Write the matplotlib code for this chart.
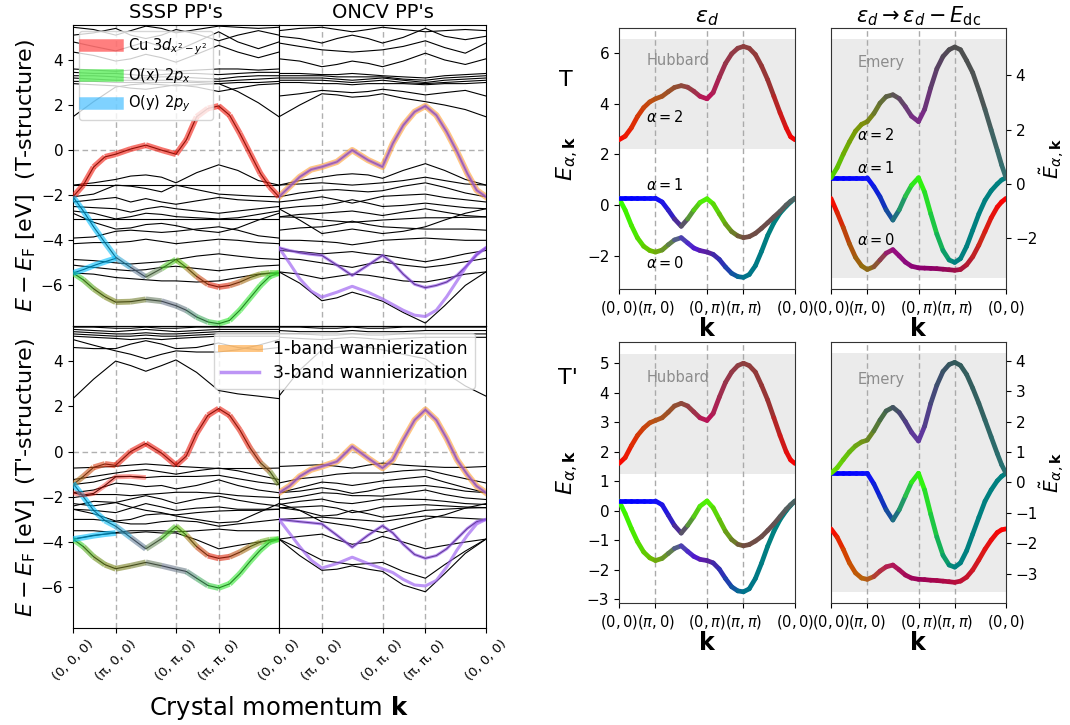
import numpy as np
import matplotlib
matplotlib.use("Agg")
import matplotlib.pyplot as plt
from matplotlib.collections import LineCollection
from matplotlib.lines import Line2D

# ---------------------------------------------------------------- k paths
# normalised path length along (0,0,0)-(pi,0,0)-(0,pi,0)-(pi,pi,0)-(0,0,0)
K_NODES = [0.0, 0.2071, 0.5, 0.7071, 1.0]
K_LABELS_3D = ["(0, 0, 0)", "(π, 0, 0)", "(0, π, 0)", "(π, π, 0)", "(0, 0, 0)"]
K_LABELS_2D = [r"$(0,0)$", r"$(\pi,0)$", r"$(0,\pi)$", r"$(\pi,\pi)$", r"$(0,0)$"]

# sample points for the thin DFT bands
KB = [0, 0.1, 0.2071, 0.28, 0.3536, 0.43, 0.5, 0.6, 0.7071, 0.8, 0.9, 1.0]
# sample points for highlighted DFT bands
KC = [0, 0.05, 0.1, 0.155, 0.2071, 0.28, 0.3536, 0.43, 0.5, 0.55, 0.6, 0.655,
      0.7071, 0.76, 0.81, 0.86, 0.91, 0.955, 1.0]
# sample points for the model bands
KM = [0, 0.035, 0.07, 0.105, 0.14, 0.175, 0.2071,
      0.245, 0.28, 0.315, 0.3536, 0.39, 0.425, 0.46, 0.5,
      0.535, 0.57, 0.605, 0.64, 0.675, 0.7071,
      0.74, 0.775, 0.81, 0.845, 0.88, 0.915, 0.95, 0.975, 1.0]
# anchor points for orbital-character colours
CA = [0, 0.1, 0.2071, 0.28, 0.3536, 0.43, 0.5, 0.6, 0.7071, 0.86, 1.0]

# ---------------------------------------------------------------- DFT: T structure, SSSP
sssp_T_bands = [
    [5.45, 5.35, 5.1, 5.3, 5.5, 5.4, 5.2, 5.35, 5.5, 5.45, 5.4, 5.45],
    [5.1, 5.2, 5.4, 5.1, 4.95, 5.1, 5.35, 5.15, 4.85, 5.1, 5.3, 5.1],
    [4.8, 4.6, 4.4, 4.6, 4.8, 4.6, 4.4, 4.8, 5.25, 4.8, 4.5, 4.8],
    [4.35, 4.2, 3.95, 4.05, 4.25, 4.1, 3.9, 4.25, 4.65, 4.35, 4.1, 4.35],
    [3.6, 3.55, 3.5, 3.55, 3.6, 3.55, 3.5, 3.55, 3.6, 3.6, 3.55, 3.6],
    [3.45, 3.4, 3.4, 3.35, 3.3, 3.35, 3.4, 3.4, 3.35, 3.4, 3.45, 3.45],
    [3.3, 3.3, 3.25, 3.2, 3.2, 3.25, 3.25, 3.2, 3.15, 3.25, 3.3, 3.3],
    [3.2, 3.15, 3.1, 3.1, 3.1, 3.1, 3.1, 3.05, 3.05, 3.1, 3.15, 3.2],
    [3.05, 3.05, 3.0, 3.0, 3.0, 3.0, 3.0, 3.0, 2.95, 3.0, 3.0, 3.05],
    [1.48, 2.15, 2.8, 2.9, 2.95, 2.9, 2.85, 2.9, 2.95, 2.6, 2.1, 1.48],
    [2.95, 2.9, 2.85, 2.75, 2.7, 2.8, 2.9, 2.8, 2.6, 2.75, 2.9, 2.95],
    [-1.55, -1.45, -1.3, -1.15, -1.1, -1.2, -1.45, -1.0, -0.65, -0.9, -1.35, -1.55],
    [-1.55, -1.55, -1.55, -1.55, -1.55, -1.55, -1.55, -1.55, -1.55, -1.55, -1.55, -1.55],
    [-2.07, -1.95, -1.55, -1.6, -1.7, -1.85, -1.55, -1.75, -1.95, -2.0, -2.05, -2.07],
    [-2.3, -2.2, -2.1, -2.3, -2.15, -2.3, -2.4, -2.25, -2.1, -2.2, -2.25, -2.3],
    [-2.5, -2.55, -2.6, -2.75, -2.6, -2.5, -2.6, -2.7, -2.8, -2.7, -2.6, -2.5],
    [-2.7, -2.8, -3.05, -2.95, -2.8, -2.85, -2.95, -3.0, -3.05, -3.0, -2.85, -2.7],
    [-3.05, -3.05, -3.05, -3.05, -3.05, -3.05, -3.05, -3.05, -3.05, -3.05, -3.05, -3.05],
    [-2.8, -3.2, -3.5, -3.45, -3.3, -3.25, -3.35, -3.55, -3.65, -3.45, -3.1, -2.8],
    [-3.9, -3.85, -3.6, -3.55, -3.6, -3.65, -3.6, -3.5, -3.4, -3.55, -3.8, -3.9],
    [-4.15, -4.1, -4.1, -4.05, -3.95, -4.05, -4.15, -4.05, -3.95, -4.0, -4.1, -4.15],
    [-4.85, -4.9, -5.0, -5.05, -5.0, -4.95, -4.85, -4.7, -4.6, -4.7, -4.8, -4.85],
    [-5.1, -5.2, -5.3, -5.35, -5.3, -5.2, -5.15, -5.25, -5.35, -5.25, -5.15, -5.1],
    [-5.45, -5.5, -5.65, -5.7, -5.75, -5.8, -5.8, -5.85, -5.8, -5.65, -5.5, -5.45],
]
sssp_T_cu = [-2.07, -1.55, -0.75, -0.3, -0.18, 0.05, 0.22, 0.0, -0.18, 0.45, 1.48,
             1.85, 1.96, 1.55, 0.74, -0.15, -1.04, -1.63, -2.07]
sssp_T_o1 = [-2.07, -2.7, -3.4, -4.1, -4.75, -5.2, -5.63, -5.25, -4.85, -5.2, -5.6,
             -5.95, -6.07, -6.0, -5.85, -5.65, -5.5, -5.45, -5.45]
sssp_T_o2 = [-5.45, -5.3, -5.12, -4.95, -4.8]
sssp_T_o3 = [-5.45, -5.75, -6.15, -6.5, -6.74, -6.72, -6.62, -6.7, -6.9, -7.1, -7.4,
             -7.62, -7.7, -7.55, -7.1, -6.55, -6.0, -5.6, -5.45]

# ---------------------------------------------------------------- DFT: T structure, ONCV
oncv_T_bands = [
    [5.3, 5.4, 5.45, 5.35, 5.25, 5.35, 5.45, 5.35, 5.25, 5.3, 5.35, 5.3],
    [5.05, 4.95, 4.75, 4.95, 5.1, 4.95, 4.75, 5.0, 5.4, 5.05, 4.9, 5.05],
    [4.75, 4.6, 4.45, 4.4, 4.35, 4.4, 4.45, 4.6, 4.85, 4.55, 4.3, 4.75],
    [4.05, 3.95, 3.7, 3.8, 3.95, 3.85, 3.7, 3.95, 4.3, 4.0, 3.8, 4.05],
    [3.4, 3.4, 3.35, 3.35, 3.4, 3.35, 3.3, 3.25, 3.2, 3.3, 3.35, 3.4],
    [3.3, 3.3, 3.3, 3.25, 3.25, 3.25, 3.25, 3.15, 3.1, 3.2, 3.25, 3.3],
    [3.2, 3.2, 3.2, 3.15, 3.1, 3.15, 3.2, 3.1, 3.0, 3.1, 3.15, 3.2],
    [3.1, 3.1, 3.1, 3.05, 3.0, 3.05, 3.1, 3.0, 2.95, 3.0, 3.05, 3.1],
    [3.0, 3.0, 2.95, 2.95, 2.9, 2.95, 2.95, 2.95, 2.9, 2.95, 2.95, 3.0],
    [2.4, 2.5, 2.65, 2.6, 2.55, 2.6, 2.7, 2.6, 2.45, 2.55, 2.65, 2.4],
    [1.48, 2.0, 2.5, 2.45, 2.35, 2.4, 2.5, 2.3, 2.15, 2.0, 1.8, 1.48],
    [-1.55, -1.35, -1.2, -1.1, -1.05, -1.1, -1.25, -0.9, -0.6, -0.9, -1.3, -1.55],
    [-1.55, -1.5, -1.45, -1.5, -1.55, -1.5, -1.45, -1.35, -1.2, -1.35, -1.5, -1.55],
    [-2.07, -1.9, -1.78, -1.75, -1.8, -1.85, -1.8, -1.6, -1.45, -1.65, -1.9, -2.07],
    [-2.3, -2.2, -2.07, -2.2, -2.35, -2.2, -2.05, -2.0, -1.95, -2.1, -2.2, -2.3],
    [-2.6, -2.5, -2.45, -2.35, -2.2, -2.35, -2.5, -2.45, -2.35, -2.45, -2.55, -2.6],
    [-2.96, -2.85, -2.8, -2.75, -2.7, -2.8, -2.9, -2.75, -2.6, -2.75, -2.9, -2.96],
    [-2.96, -2.98, -3.1, -3.15, -3.2, -3.15, -3.1, -3.05, -3.0, -3.0, -2.98, -2.96],
    [-3.55, -3.45, -3.4, -3.3, -3.15, -3.3, -3.4, -3.45, -3.5, -3.5, -3.5, -3.55],
    [-2.6, -3.1, -3.7, -3.6, -3.5, -3.6, -3.7, -3.6, -3.4, -3.1, -2.8, -2.6],
    [-4.0, -4.0, -4.05, -4.1, -4.2, -4.1, -4.0, -3.95, -3.9, -3.95, -4.0, -4.0],
    [-4.45, -4.5, -4.6, -4.55, -4.5, -4.6, -4.65, -4.8, -4.95, -4.8, -4.6, -4.45],
    [-4.8, -4.85, -5.0, -5.1, -5.2, -5.05, -4.95, -5.1, -5.2, -5.1, -4.95, -4.8],
    [-5.4, -5.5, -5.7, -5.6, -5.5, -5.55, -5.65, -5.8, -5.85, -5.7, -5.5, -5.4],
    [-5.4, -5.9, -6.68, -6.55, -6.3, -6.5, -6.7, -7.2, -7.67, -6.9, -6.0, -5.4],
]
oncv_T_w1 = [-2.07, -1.63, -1.19, -0.86, -0.74, -0.52, 0.0, -0.44, -0.74, 0.3, 1.1,
             1.7, 1.96, 1.55, 0.81, -0.07, -1.04, -1.78, -2.07]
oncv_T_w3a = [-4.33, -4.45, -4.55, -4.62, -4.67, -5.1, -5.56, -5.1, -4.67, -5.0, -5.5,
              -5.95, -6.1, -6.0, -5.85, -5.55, -5.1, -4.65, -4.33]
oncv_T_w3b = [-4.33, -5.0, -5.7, -6.25, -6.52, -6.3, -6.04, -6.3, -6.6, -6.85, -7.1,
              -7.32, -7.38, -7.1, -6.5, -5.8, -5.1, -4.6, -4.33]

# ---------------------------------------------------------------- DFT: T' structure, SSSP
sssp_Tp_bands = [
    [5.5, 5.5, 5.45, 5.45, 5.5, 5.45, 5.45, 5.5, 5.5, 5.5, 5.5, 5.5],
    [5.4, 5.35, 5.3, 5.35, 5.4, 5.35, 5.3, 5.35, 5.4, 5.4, 5.4, 5.4],
    [5.3, 5.25, 5.2, 5.2, 5.25, 5.2, 5.2, 5.25, 5.3, 5.3, 5.3, 5.3],
    [5.2, 5.15, 5.1, 5.1, 5.15, 5.1, 5.1, 5.15, 5.2, 5.2, 5.2, 5.2],
    [5.1, 5.05, 5.0, 4.95, 5.0, 4.95, 5.0, 5.05, 5.1, 5.1, 5.1, 5.1],
    [4.95, 4.7, 4.45, 4.3, 4.1, 4.3, 4.45, 4.4, 4.4, 4.5, 4.7, 4.95],
    [4.6, 4.55, 4.55, 4.75, 4.9, 4.75, 4.55, 4.6, 4.8, 4.6, 4.5, 4.6],
    [2.34, 3.2, 4.0, 3.8, 3.55, 3.8, 4.05, 3.5, 2.7, 2.55, 2.45, 2.34],
    [-0.73, -0.7, -0.65, -0.6, -0.55, -0.6, -0.65, -0.7, -0.75, -0.75, -0.75, -0.73],
    [-1.24, -1.1, -0.95, -0.85, -0.8, -0.9, -1.0, -0.85, -0.73, -0.85, -1.05, -1.24],
    [-1.46, -1.35, -1.1, -1.1, -1.15, -1.1, -1.1, -1.1, -1.05, -1.2, -1.35, -1.46],
    [-1.82, -1.7, -1.4, -1.45, -1.55, -1.5, -1.65, -1.5, -1.25, -1.5, -1.7, -1.82],
    [-2.04, -1.9, -1.9, -1.95, -1.9, -1.85, -1.8, -1.8, -1.85, -1.95, -2.0, -2.04],
    [-2.41, -2.2, -2.25, -2.1, -1.95, -2.1, -2.3, -2.1, -1.97, -2.15, -2.3, -2.41],
    [-2.55, -2.6, -2.7, -2.5, -2.3, -2.45, -2.6, -2.5, -2.45, -2.55, -2.55, -2.55],
    [-2.55, -2.75, -3.07, -3.0, -2.8, -2.75, -2.8, -2.7, -2.63, -2.6, -2.6, -2.55],
    [-2.3, -2.4, -2.26, -2.45, -2.6, -2.7, -2.85, -3.0, -3.15, -3.1, -2.7, -2.3],
    [-3.0, -3.0, -3.1, -3.2, -3.2, -3.1, -3.05, -3.1, -3.3, -3.2, -3.1, -3.0],
    [-3.5, -3.5, -3.58, -3.5, -3.5, -3.5, -3.55, -3.5, -3.43, -3.5, -3.5, -3.5],
    [-3.87, -3.7, -3.6, -3.6, -3.55, -3.6, -3.6, -3.9, -4.3, -4.15, -4.0, -3.87],
]
sssp_Tp_cu = [-1.46, -1.1, -0.7, -0.55, -0.61, 0.0, 0.36, -0.07, -0.61, -0.2, 0.8,
              1.6, 1.9, 1.6, 0.95, 0.15, -0.5, -0.88, -1.46]
sssp_Tp_cu2 = [-1.82, -1.92, -1.85, -1.5, -1.12, -1.1, -1.15]
sssp_Tp_o1 = [-1.4, -2.0, -2.6, -3.05, -3.3, -3.8, -4.3, -3.85, -3.3, -3.7, -4.2,
              -4.6, -4.72, -4.65, -4.45, -4.2, -4.0, -3.9, -3.87]
sssp_Tp_o2 = [-3.87, -3.8, -3.72, -3.65, -3.6]
sssp_Tp_o3 = [-3.87, -4.2, -4.65, -5.0, -5.18, -5.05, -4.9, -5.05, -5.2, -5.3, -5.6,
              -5.92, -6.03, -5.85, -5.4, -4.85, -4.35, -4.0, -3.87]

# ---------------------------------------------------------------- DFT: T' structure, ONCV
oncv_Tp_bands = [
    [5.5, 5.5, 5.45, 5.45, 5.5, 5.45, 5.45, 5.5, 5.5, 5.5, 5.5, 5.5],
    [5.35, 5.3, 5.3, 5.3, 5.35, 5.3, 5.3, 5.3, 5.35, 5.35, 5.35, 5.35],
    [5.2, 5.2, 5.15, 5.15, 5.2, 5.15, 5.15, 5.2, 5.2, 5.2, 5.2, 5.2],
    [5.05, 5.0, 4.95, 5.0, 5.05, 5.0, 4.95, 5.0, 5.05, 5.05, 5.05, 5.05],
    [2.45, 3.6, 4.5, 4.6, 4.7, 4.6, 4.5, 4.3, 4.1, 3.5, 2.9, 2.45],
    [-0.66, -0.62, -0.58, -0.65, -0.73, -0.6, -0.51, -0.6, -0.66, -0.7, -0.7, -0.66],
    [-1.39, -1.2, -1.1, -1.0, -0.95, -0.95, -0.95, -0.85, -0.8, -1.0, -1.2, -1.39],
    [-1.82, -1.6, -1.35, -1.4, -1.5, -1.4, -1.3, -1.2, -1.1, -1.35, -1.6, -1.82],
    [-1.82, -1.75, -1.6, -1.7, -1.85, -1.75, -1.6, -1.55, -1.5, -1.6, -1.75, -1.82],
    [-2.12, -2.0, -1.82, -1.85, -1.95, -1.95, -1.97, -1.85, -1.7, -1.9, -2.05, -2.12],
    [-2.34, -2.2, -2.1, -2.25, -2.3, -2.2, -2.1, -2.1, -2.12, -2.2, -2.3, -2.34],
    [-2.48, -2.45, -2.4, -2.5, -2.7, -2.6, -2.45, -2.4, -2.35, -2.4, -2.45, -2.48],
    [-2.48, -2.6, -2.85, -2.8, -2.6, -2.75, -2.9, -2.8, -2.6, -2.55, -2.5, -2.48],
    [-3.0, -2.95, -2.9, -2.95, -3.0, -3.05, -3.1, -2.95, -2.85, -2.9, -2.95, -3.0],
    [-2.3, -2.6, -3.1, -3.2, -3.3, -3.45, -3.58, -3.3, -3.0, -2.8, -2.5, -2.3],
    [-3.87, -3.75, -3.65, -3.9, -4.1, -4.0, -3.75, -4.0, -4.3, -4.15, -4.0, -3.87],
    [-3.87, -4.3, -4.8, -4.9, -5.0, -4.95, -4.9, -5.3, -5.6, -5.0, -4.4, -3.87],
    [-3.87, -4.6, -5.25, -5.2, -5.05, -5.2, -5.3, -5.9, -6.2, -5.4, -4.5, -3.87],
]
oncv_Tp_w1 = [-1.82, -1.53, -1.1, -0.8, -0.66, -0.44, 0.22, -0.29, -0.73, -0.36, 0.51,
              1.39, 1.85, 1.39, 0.58, -0.36, -1.02, -1.53, -1.82]
oncv_Tp_w3a = [-3.0, -3.05, -3.1, -3.15, -3.2, -3.7, -4.23, -3.7, -3.28, -3.6, -4.1,
               -4.55, -4.72, -4.6, -4.3, -3.85, -3.4, -3.1, -3.0]
oncv_Tp_w3b = [-3.0, -3.6, -4.2, -4.8, -5.15, -4.95, -4.67, -4.95, -5.18, -5.35, -5.65,
               -5.9, -5.94, -5.7, -5.1, -4.35, -3.7, -3.2, -3.0]

# orbital-character colours of the highlighted DFT bands (RGB at CA)
col_cu_T = [(0.95, 0.1, 0.05)] * 11
col_cu_Tp = [(0.65, 0.45, 0.1), (0.85, 0.3, 0.1), (0.9, 0.15, 0.05), (0.92, 0.1, 0.05),
             (0.92, 0.1, 0.05), (0.92, 0.1, 0.05), (0.92, 0.1, 0.05), (0.92, 0.1, 0.05),
             (0.92, 0.1, 0.05), (0.9, 0.15, 0.05), (0.4, 0.65, 0.2)]
col_o1 = [(0.0, 0.75, 1.0), (0.0, 0.75, 1.0), (0.1, 0.75, 0.95), (0.3, 0.55, 0.7),
          (0.5, 0.45, 0.5), (0.4, 0.7, 0.3), (0.3, 0.9, 0.1), (0.75, 0.35, 0.1),
          (0.92, 0.1, 0.05), (0.6, 0.5, 0.1), (0.3, 0.9, 0.2)]
col_o3 = [(0.2, 0.9, 0.2), (0.4, 0.6, 0.1), (0.5, 0.5, 0.1), (0.45, 0.5, 0.15),
          (0.45, 0.5, 0.25), (0.4, 0.5, 0.55), (0.45, 0.45, 0.55), (0.3, 0.6, 0.45),
          (0.2, 0.9, 0.2), (0.2, 0.9, 0.2), (0.2, 0.9, 0.2)]

# ---------------------------------------------------------------- three-band model bands (at KM)
hub_T = [
    [0.27, -0.2, -0.8, -1.3, -1.63, -1.8, -1.86,
     -1.78, -1.57, -1.38, -1.29, -1.5, -1.7, -1.8, -1.86,
     -1.95, -2.15, -2.45, -2.7, -2.83, -2.86,
     -2.75, -2.4, -1.83, -1.2, -0.7, -0.32, -0.05, 0.12, 0.27],
    [0.27, 0.27, 0.27, 0.27, 0.27, 0.27, 0.27,
     0.12, -0.2, -0.55, -0.84, -0.55, -0.2, 0.1, 0.25,
     0.05, -0.35, -0.75, -1.05, -1.22, -1.29,
     -1.25, -1.12, -0.92, -0.7, -0.47, -0.25, 0.0, 0.15, 0.27],
    [2.58, 2.72, 3.05, 3.5, 3.85, 4.08, 4.2,
     4.3, 4.48, 4.65, 4.72, 4.66, 4.5, 4.3, 4.2,
     4.45, 5.05, 5.6, 5.98, 6.2, 6.27,
     6.2, 5.95, 5.5, 4.95, 4.3, 3.65, 3.05, 2.7, 2.58],
]
eme_T = [
    [-0.53, -1.05, -1.6, -2.2, -2.7, -3.02, -3.15,
     -3.05, -2.8, -2.55, -2.42, -2.65, -2.88, -3.03, -3.09,
     -3.1, -3.11, -3.12, -3.14, -3.16, -3.18,
     -3.15, -2.98, -2.68, -2.25, -1.75, -1.25, -0.85, -0.66, -0.53],
    [0.23, 0.23, 0.23, 0.23, 0.23, 0.23, 0.23,
     -0.1, -0.47, -0.95, -1.33, -0.95, -0.45, -0.05, 0.23,
     -0.3, -1.1, -1.85, -2.45, -2.8, -2.89,
     -2.75, -2.3, -1.7, -1.1, -0.6, -0.25, 0.0, 0.15, 0.23],
    [0.23, 0.6, 1.1, 1.55, 1.95, 2.2, 2.3,
     2.6, 2.98, 3.22, 3.29, 3.15, 2.85, 2.5, 2.3,
     2.75, 3.55, 4.25, 4.7, 4.95, 5.05,
     4.95, 4.55, 4.1, 3.45, 2.75, 2.0, 1.25, 0.7, 0.23],
]
hub_Tp = [
    [0.33, -0.1, -0.6, -1.05, -1.4, -1.6, -1.69,
     -1.62, -1.45, -1.28, -1.19, -1.38, -1.55, -1.65, -1.69,
     -1.77, -1.98, -2.3, -2.58, -2.72, -2.75,
     -2.65, -2.3, -1.78, -1.2, -0.7, -0.3, 0.0, 0.18, 0.33],
    [0.33, 0.33, 0.33, 0.33, 0.33, 0.33, 0.33,
     0.2, -0.15, -0.5, -0.76, -0.5, -0.2, 0.15, 0.33,
     0.1, -0.3, -0.7, -0.98, -1.14, -1.19,
     -1.15, -1.03, -0.88, -0.67, -0.45, -0.2, 0.05, 0.2, 0.33],
    [1.6, 1.8, 2.2, 2.55, 2.8, 2.98, 3.06,
     3.15, 3.34, 3.55, 3.64, 3.55, 3.35, 3.15, 3.06,
     3.3, 3.85, 4.35, 4.7, 4.92, 5.0,
     4.92, 4.7, 4.25, 3.75, 3.15, 2.55, 2.0, 1.72, 1.6],
]
eme_Tp = [
    [-1.53, -1.8, -2.2, -2.65, -2.98, -3.15, -3.19,
     -3.1, -2.92, -2.78, -2.72, -2.88, -3.05, -3.15, -3.19,
     -3.2, -3.22, -3.23, -3.25, -3.27, -3.29,
     -3.25, -3.12, -2.88, -2.55, -2.2, -1.9, -1.65, -1.56, -1.53],
    [0.3, 0.3, 0.3, 0.3, 0.3, 0.3, 0.3,
     -0.05, -0.47, -0.9, -1.24, -0.9, -0.45, 0.0, 0.3,
     -0.25, -1.05, -1.8, -2.4, -2.72, -2.79,
     -2.65, -2.25, -1.7, -1.15, -0.62, -0.25, 0.05, 0.2, 0.3],
    [0.3, 0.48, 0.75, 1.0, 1.2, 1.33, 1.39,
     1.7, 2.05, 2.35, 2.47, 2.3, 2.0, 1.65, 1.36,
     1.85, 2.6, 3.2, 3.65, 3.88, 3.95,
     3.85, 3.55, 3.1, 2.6, 2.05, 1.5, 0.95, 0.58, 0.3],
]
# energy windows shaded for the Hubbard / Emery projections
win_hub_T = (2.21, 6.56)
win_eme_T = (-3.45, 5.35)
win_hub_Tp = (1.25, 5.3)
win_eme_Tp = (-3.6, 4.25)

# orbital-character colours of the model bands (RGB at CA)
c_hub_a0 = [(0.2, 1, 0), (0.3, 0.9, 0), (0.45, 0.7, 0), (0.4, 0.55, 0.2), (0.3, 0.3, 0.65),
            (0.3, 0.1, 0.85), (0.38, 0.12, 0.6), (0.15, 0.2, 0.72), (0, 0.45, 0.55),
            (0, 0.5, 0.5), (0, 0.5, 0.5)]
c_hub_a1 = [(0, 0, 1), (0, 0, 1), (0.05, 0.05, 1), (0.15, 0.1, 0.85), (0.35, 0.2, 0.5),
            (0.35, 0.75, 0.1), (0.3, 1, 0), (0.4, 0.7, 0.05), (0.45, 0.3, 0.25),
            (0.42, 0.3, 0.3), (0.3, 0.4, 0.4)]
c_hub_a2 = [(1, 0, 0), (0.85, 0.2, 0.02), (0.72, 0.33, 0.08), (0.62, 0.32, 0.15),
            (0.55, 0.3, 0.22), (0.6, 0.22, 0.28), (0.75, 0.05, 0.35), (0.6, 0.2, 0.3),
            (0.55, 0.25, 0.25), (0.6, 0.2, 0.2), (1, 0, 0)]
c_eme_T_a0 = [(1, 0, 0), (0.7, 0.3, 0.05), (0.55, 0.45, 0.05), (0.55, 0.3, 0.25),
              (0.6, 0.05, 0.5), (0.55, 0.05, 0.5), (0.55, 0, 0.45), (0.55, 0, 0.4),
              (0.6, 0.05, 0.3), (0.8, 0.15, 0.1), (1, 0, 0)]
c_eme_a1 = [(0, 0, 1), (0, 0, 1), (0.05, 0.05, 1), (0.05, 0.15, 0.8), (0.1, 0.35, 0.55),
            (0.15, 0.7, 0.35), (0.2, 1, 0), (0.1, 0.75, 0.3), (0, 0.5, 0.5), (0, 0.5, 0.5),
            (0, 0.5, 0.5)]
c_eme_T_a2 = [(0.3, 0.85, 0), (0.45, 0.65, 0.02), (0.5, 0.55, 0.05), (0.4, 0.45, 0.2),
              (0.35, 0.35, 0.3), (0.4, 0.25, 0.45), (0.5, 0.15, 0.55), (0.35, 0.25, 0.4),
              (0.3, 0.3, 0.3), (0.3, 0.33, 0.33), (0.2, 0.45, 0.45)]
c_eme_Tp_a0 = [(1, 0, 0), (0.8, 0.3, 0.0), (0.7, 0.4, 0.05), (0.7, 0.2, 0.25),
               (0.7, 0.1, 0.35), (0.65, 0.05, 0.35), (0.6, 0, 0.35), (0.65, 0.02, 0.3),
               (0.7, 0.05, 0.25), (0.85, 0.1, 0.1), (1, 0, 0)]
c_eme_Tp_a2 = [(0.4, 0.9, 0), (0.4, 0.75, 0.05), (0.45, 0.55, 0.1), (0.3, 0.45, 0.25),
               (0.25, 0.35, 0.35), (0.3, 0.25, 0.5), (0.4, 0.2, 0.65), (0.25, 0.3, 0.45),
               (0.2, 0.35, 0.35), (0.2, 0.38, 0.38), (0.15, 0.45, 0.45)]


# ---------------------------------------------------------------- helpers
def colored_line(ax, x, y, cols, lw, alpha=1.0, z=3, cap="round"):
    x = np.asarray(x, float)
    y = np.asarray(y, float)
    cols = np.asarray(cols, float)
    pts = np.column_stack([x, y])
    segs = np.stack([pts[:-1], pts[1:]], axis=1)
    xm = 0.5 * (x[:-1] + x[1:])
    seg_cols = np.column_stack([np.interp(xm, CA, cols[:, i]) for i in range(3)])
    lc = LineCollection(segs, colors=seg_cols, linewidths=lw, alpha=alpha,
                        capstyle=cap, joinstyle="round", zorder=z)
    ax.add_collection(lc)


GRID_KW = dict(color="#b0b0b0", lw=1.0, ls=(0, (4, 2.5)), zorder=0.5)


def dft_axes(ax, bands, bottom, first_label=True):
    for b in bands:
        ax.plot(KB, b, color="black", lw=0.8, zorder=2)
    for xv in K_NODES[1:-1]:
        ax.axvline(xv, **GRID_KW)
    ax.axhline(0, **GRID_KW)
    ax.set_xlim(0, 1)
    ax.set_ylim(-7.8, 5.55)
    ax.set_xticks(K_NODES)
    if bottom:
        labels = list(K_LABELS_3D)
        if not first_label:
            labels[0] = ""
        ax.set_xticklabels(labels, rotation=45, fontsize=9.5)
    else:
        ax.set_xticklabels([])
        ax.tick_params(axis="x", length=0)
    ax.set_yticks([-6, -4, -2, 0, 2, 4])
    ax.tick_params(axis="y", labelsize=11)


def model_axes(ax, bands, colors, window, ylim, yticks, right):
    ax.axhspan(window[0], window[1], color="#ebebeb", lw=0, zorder=0)
    for xv in K_NODES[1:-1]:
        ax.axvline(xv, color="#aaaaaa", lw=1.0, ls=(0, (4, 2.5)), zorder=0.5)
    for b, c in zip(bands, colors):
        colored_line(ax, KM, b, c, lw=3.4)
    ax.set_xlim(0, 1)
    ax.set_ylim(*ylim)
    ax.set_yticks(yticks)
    ax.set_xticks(K_NODES)
    ax.set_xticklabels(K_LABELS_2D, fontsize=10.5)
    ax.tick_params(axis="y", labelsize=11)
    ax.set_xlabel(r"$\mathbf{k}$", fontsize=17, labelpad=0)
    for sp in ax.spines.values():
        sp.set_color("#333333")
    if right:
        ax.yaxis.tick_right()
        ax.yaxis.set_label_position("right")
        ax.set_ylabel(r"$\tilde{E}_{\alpha,\mathbf{k}}$", fontsize=14.5, labelpad=0)
    else:
        ax.set_ylabel(r"$E_{\alpha,\mathbf{k}}$", fontsize=16, labelpad=4)
    return ax


# ---------------------------------------------------------------- figure
W, H = 1070, 725
fig = plt.figure(figsize=(W / 100, H / 100), dpi=100)


def px_axes(x0, x1, y0, y1):
    return fig.add_axes([x0 / W, 1 - y1 / H, (x1 - x0) / W, (y1 - y0) / H])


ax_sT = px_axes(73, 279, 25, 326)
ax_oT = px_axes(279, 486, 25, 326)
ax_sP = px_axes(73, 279, 326, 628)
ax_oP = px_axes(279, 486, 326, 628)

dft_axes(ax_sT, sssp_T_bands, False)
dft_axes(ax_oT, oncv_T_bands, False)
dft_axes(ax_sP, sssp_Tp_bands, True)
dft_axes(ax_oP, oncv_Tp_bands, True, first_label=False)
for ax in (ax_oT, ax_oP):
    ax.set_yticklabels([])
    ax.tick_params(axis="y", length=0)

# SSSP: fat bands with orbital character
for ax, cu, o1, o2, o3, ccu in (
        (ax_sT, sssp_T_cu, sssp_T_o1, sssp_T_o2, sssp_T_o3, col_cu_T),
        (ax_sP, sssp_Tp_cu, sssp_Tp_o1, sssp_Tp_o2, sssp_Tp_o3, col_cu_Tp)):
    for b in (cu, o1, o3):
        ax.plot(KC, b, color="black", lw=0.8, zorder=2)
    ax.plot(KC[:len(o2)], o2, color="black", lw=0.8, zorder=2)
    colored_line(ax, KC, cu, ccu, lw=4.2, alpha=0.6, cap="butt")
    colored_line(ax, KC, o1, col_o1, lw=4.2, alpha=0.6, cap="butt")
    colored_line(ax, KC, o3, col_o3, lw=4.2, alpha=0.6, cap="butt")
    ax.plot(KC[:len(o2)], o2, color=(0.0, 0.75, 1.0), lw=4.2, alpha=0.6,
            solid_capstyle="butt", zorder=3)
ax_sP.plot(KC[:len(sssp_Tp_cu2)], sssp_Tp_cu2, color="black", lw=0.8, zorder=2)
ax_sP.plot(KC[:len(sssp_Tp_cu2)], sssp_Tp_cu2, color=(1.0, 0.1, 0.05), lw=3.5,
           alpha=0.4, solid_capstyle="butt", zorder=3)

# ONCV: Wannier-interpolated bands
for ax, w1, wa, wb in ((ax_oT, oncv_T_w1, oncv_T_w3a, oncv_T_w3b),
                       (ax_oP, oncv_Tp_w1, oncv_Tp_w3a, oncv_Tp_w3b)):
    ax.plot(KC, w1, color="black", lw=0.8, zorder=2)
    ax.plot(KC, wa, color="black", lw=0.8, zorder=2)
    ax.plot(KC, w1, color="#ffa030", lw=4.5, alpha=0.6, zorder=3)
    for b in (w1, wa, wb):
        ax.plot(KC, b, color="#9a5cf0", lw=2.2, alpha=0.65, zorder=4)

ax_sT.set_title("SSSP PP's", fontsize=14, pad=5)
ax_oT.set_title("ONCV PP's", fontsize=14, pad=5)
ax_sT.set_ylabel(r"$E-E_\mathrm{F}$ [eV]  (T-structure)", fontsize=16, labelpad=2)
ax_sP.set_ylabel(r"$E-E_\mathrm{F}$ [eV]  (T'-structure)", fontsize=16, labelpad=2)
fig.text(279 / W, 1 - 708 / H, r"Crystal momentum $\mathbf{k}$", fontsize=17.5,
         ha="center", va="center")

orb_handles = [
    Line2D([], [], color=(1.0, 0.0, 0.0), lw=9, alpha=0.5),
    Line2D([], [], color=(0.0, 0.9, 0.0), lw=9, alpha=0.5),
    Line2D([], [], color=(0.0, 0.65, 1.0), lw=9, alpha=0.5),
]
ax_sT.legend(orb_handles, [r"Cu $3d_{x^2-y^2}$", r"O(x) $2p_x$", r"O(y) $2p_y$"],
             loc="upper left", fontsize=10.5, handlelength=2.2, borderaxespad=0.4,
             labelspacing=0.6)

wan_handles = [
    Line2D([], [], color="#ffa030", lw=5, alpha=0.6),
    Line2D([], [], color="#9a5cf0", lw=2.5, alpha=0.65),
]
fig.legend(wan_handles, ["1-band wannierization", "3-band wannierization"],
           loc="upper left", bbox_to_anchor=(214 / W, 1 - 333 / H), fontsize=12.5,
           handlelength=2.2, borderaxespad=0.0, labelspacing=0.35)

# ---------------------------------------------------------------- model panels
ax_hT = px_axes(619, 795, 28, 289)
ax_eT = px_axes(831, 1006, 28, 289)
ax_hP = px_axes(619, 795, 342, 603)
ax_eP = px_axes(831, 1006, 342, 603)

model_axes(ax_hT, hub_T, [c_hub_a0, c_hub_a1, c_hub_a2], win_hub_T,
           (-3.32, 7.0), [-2, 0, 2, 4, 6], False)
model_axes(ax_eT, eme_T, [c_eme_T_a0, c_eme_a1, c_eme_T_a2], win_eme_T,
           (-3.87, 5.75), [-2, 0, 2, 4], True)
model_axes(ax_hP, hub_Tp, [c_hub_a0, c_hub_a1, c_hub_a2], win_hub_Tp,
           (-3.13, 5.72), [-3, -2, -1, 0, 1, 2, 3, 4, 5], False)
model_axes(ax_eP, eme_Tp, [c_eme_Tp_a0, c_eme_a1, c_eme_Tp_a2], win_eme_Tp,
           (-3.97, 4.62), [-3, -2, -1, 0, 1, 2, 3, 4], True)

TXT_GRAY = "#8c8c8c"
ax_hT.text(0.155, 5.7, "Hubbard", color=TXT_GRAY, fontsize=10.5, va="center")
ax_eT.text(0.15, 4.49, "Emery", color=TXT_GRAY, fontsize=10.5, va="center")
ax_hP.text(0.155, 4.5, "Hubbard", color=TXT_GRAY, fontsize=10.5, va="center")
ax_eP.text(0.15, 3.4, "Emery", color=TXT_GRAY, fontsize=10.5, va="center")

ax_hT.text(0.155, 3.48, r"$\alpha=2$", fontsize=10.5, va="center")
ax_hT.text(0.155, 0.80, r"$\alpha=1$", fontsize=10.5, va="center")
ax_hT.text(0.155, -2.29, r"$\alpha=0$", fontsize=10.5, va="center")
ax_eT.text(0.15, 1.81, r"$\alpha=2$", fontsize=10.5, va="center")
ax_eT.text(0.15, 0.58, r"$\alpha=1$", fontsize=10.5, va="center")
ax_eT.text(0.15, -2.07, r"$\alpha=0$", fontsize=10.5, va="center")

ax_hT.set_title(r"$\varepsilon_d$", fontsize=16, pad=4)
ax_eT.set_title(r"$\varepsilon_d \rightarrow \varepsilon_d - E_\mathrm{dc}$", fontsize=15,
                pad=4)
fig.text(566 / W, 1 - 80 / H, "T", fontsize=16, ha="center", va="center")
fig.text(568 / W, 1 - 378 / H, "T'", fontsize=16, ha="center", va="center")

fig.savefig("out.png", dpi=100)
